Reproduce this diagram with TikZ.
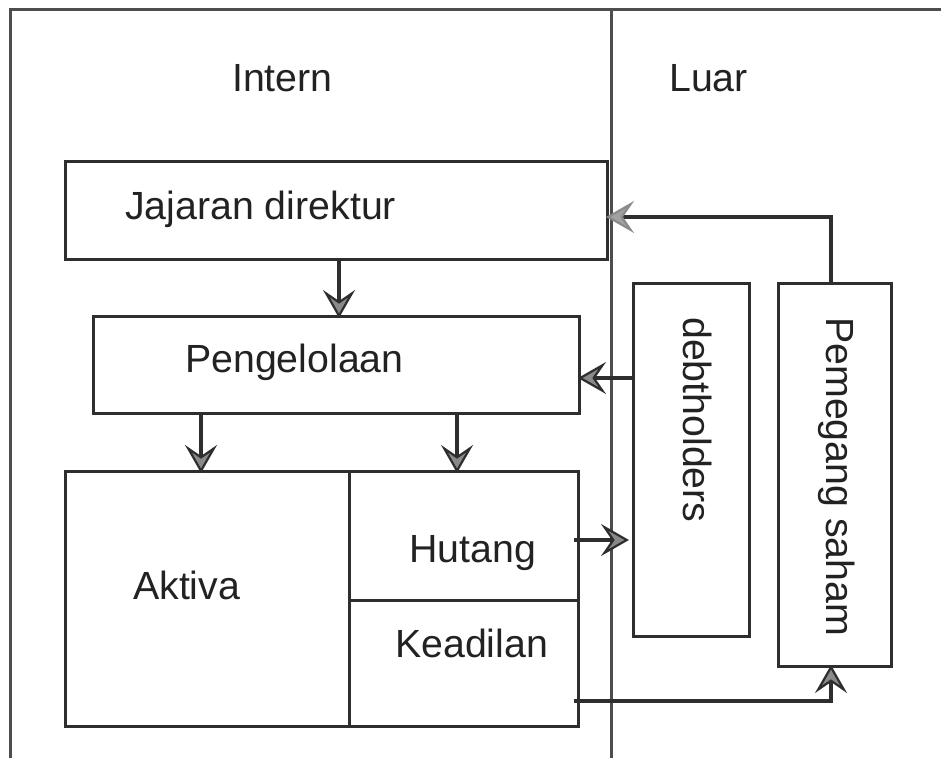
\documentclass[tikz,border=0pt]{standalone}
\usepackage{fontspec}
\setmainfont{Liberation Sans}
\usetikzlibrary{arrows.meta}
\definecolor{ln}{HTML}{2E2E2E}
\definecolor{tx}{HTML}{222222}
\definecolor{hd}{HTML}{8A8A8A}
\tikzset{
  frame/.style={draw=ln!85, line width=3pt},
  box/.style={draw=ln, line width=3pt, rectangle, inner sep=0pt, anchor=north west},
  lbl/.style={text=tx, inner sep=0pt, anchor=base west, font=\fontsize{39.3}{45}\selectfont},
  arr/.style={draw=ln, line width=3.4pt, shorten >=-3pt, -{Stealth[length=28pt,width=32pt,inset=11pt,fill=hd,line width=2.2pt]}},
  arrg/.style={draw=ln, line width=3.4pt, shorten >=-3pt, -{Stealth[length=28pt,width=32pt,inset=11pt,color=hd,fill=hd!80,line width=2.2pt]}}
}
\begin{document}
\begin{tikzpicture}[x=1pt,y=-1pt]
\useasboundingbox (0,0) rectangle (941,758);
% outer frame
\coordinate (fbl) at (10,758);
\coordinate (ftl) at (10,9);
\coordinate (ftr) at (941,9);
\coordinate (dt) at (611,9);
\coordinate (db) at (611,758);
\draw[frame] (fbl) -- (ftl) -- (ftr);
\draw[frame] (dt) -- (db);
% headers
\node[lbl] (intern) at (232,91) {Intern};
\node[lbl] (luar) at (669,91) {Luar};
% boxes
\node[box, minimum width=542pt, minimum height=98pt] (jd) at (64,160) {};
\node[box, minimum width=486pt, minimum height=97pt] (pg) at (92,315) {};
\node[box, minimum width=284pt, minimum height=255pt] (ak) at (64,470) {};
\node[box, minimum width=229pt, minimum height=129pt] (hu) at (348,470) {};
\node[box, minimum width=229pt, minimum height=126pt] (kd) at (348,599) {};
\node[box, minimum width=116pt, minimum height=353pt] (dh) at (632,282) {};
\node[box, minimum width=113pt, minimum height=383pt] (ps) at (777,282) {};
% labels
\node[lbl] (tjd) at (125,219) {Jajaran direktur};
\node[lbl] (tpg) at (185,372) {Pengelolaan};
\node[lbl] (tak) at (133,599) {Aktiva};
\node[lbl] (thu) at (409,562) {Hutang};
\node[lbl] (tkd) at (395,657) {Keadilan};
\node[lbl, rotate=-90] (tdh) at (683,317) {debtholders};
\node[lbl, rotate=-90] (tps) at (826,317) {Pemegang saham};
% connectors
\draw[arr] ([xshift=275pt]jd.south west) -- ([xshift=275pt]jd.south west |- pg.north);
\draw[arr] ([xshift=109pt]pg.south west) -- ([xshift=109pt]pg.south west |- ak.north);
\draw[arr] ([xshift=365pt]pg.south west) -- ([xshift=365pt]pg.south west |- hu.north);
\draw[arr] ([yshift=-96pt]dh.north west) -- ([yshift=-96pt]dh.north west -| pg.east);
\draw[arr] ([xshift=-6pt,yshift=-70pt]hu.north east) -- ([xshift=-6pt,yshift=-70pt]hu.north east -| dh.west);
\draw[arr] ([xshift=-6pt,yshift=27pt]kd.south east) -| ([xshift=-4pt]ps.south);
\draw[arrg] ([xshift=-4pt]ps.north) |- ([yshift=-57pt]jd.north east);
\end{tikzpicture}
\end{document}
